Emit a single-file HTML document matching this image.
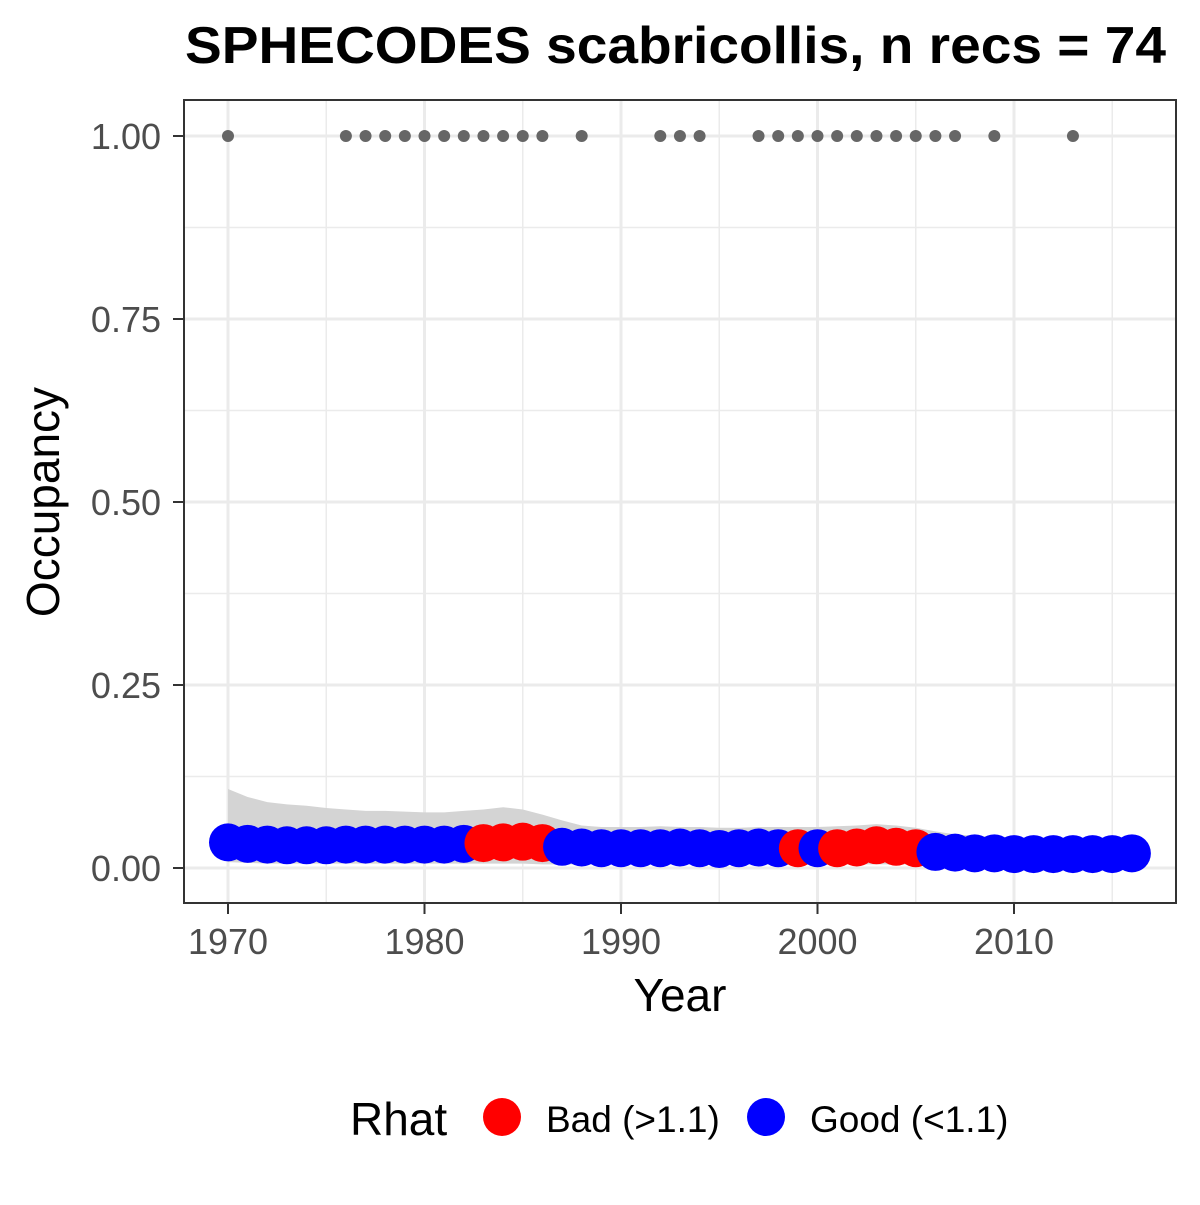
<!DOCTYPE html>
<html><head><meta charset="utf-8"><style>
body{margin:0;background:#fff;}
svg text{font-family:"Liberation Sans",Arial,sans-serif;}
</style></head><body>
<svg id="chart" width="1200" height="1200" xmlns="http://www.w3.org/2000/svg">
<rect width="1200" height="1200" fill="#fff"/>
<text x="185" y="63" font-size="52" font-weight="bold" textLength="981" lengthAdjust="spacingAndGlyphs">SPHECODES scabricollis, n recs = 74</text>
<g id="grid"></g>
<g id="band"></g>
<g id="recs"></g>
<g id="pts"></g>
<rect x="184" y="100" width="992" height="803" fill="none" stroke="#333" stroke-width="2"/>
<g id="axes"></g>
<text x="680" y="1011" text-anchor="middle" font-size="46">Year</text>
<text transform="translate(59,502) rotate(-90)" text-anchor="middle" font-size="46">Occupancy</text>
<g>
<text x="350" y="1135" font-size="46">Rhat</text>
<circle cx="502" cy="1117" r="19" fill="#f00"/>
<text x="546" y="1132" font-size="37">Bad (&gt;1.1)</text>
<circle cx="766" cy="1117" r="19" fill="#00f"/>
<text x="810" y="1132" font-size="37">Good (&lt;1.1)</text>
</g>
</svg>
<script>
const years=[1970,1971,1972,1973,1974,1975,1976,1977,1978,1979,1980,1981,1982,1983,1984,1985,1986,1987,1988,1989,1990,1991,1992,1993,1994,1995,1996,1997,1998,1999,2000,2001,2002,2003,2004,2005,2006,2007,2008,2009,2010,2011,2012,2013,2014,2015,2016];
const occ=[0.035,0.033,0.032,0.031,0.031,0.031,0.032,0.032,0.032,0.032,0.032,0.032,0.033,0.034,0.035,0.036,0.034,0.029,0.028,0.027,0.027,0.027,0.027,0.028,0.027,0.026,0.027,0.028,0.027,0.027,0.027,0.027,0.028,0.031,0.029,0.027,0.022,0.021,0.020,0.020,0.019,0.019,0.019,0.019,0.019,0.019,0.020];
const rhatBad=[0,0,0,0,0,0,0,0,0,0,0,0,0,1,1,1,1,0,0,0,0,0,0,0,0,0,0,0,0,1,0,1,1,1,1,1,0,0,0,0,0,0,0,0,0,0,0];
const upper=[0.108,0.097,0.090,0.087,0.085,0.082,0.080,0.078,0.078,0.077,0.076,0.076,0.078,0.080,0.083,0.080,0.073,0.065,0.058,0.056,0.056,0.056,0.057,0.056,0.056,0.055,0.055,0.056,0.056,0.056,0.056,0.057,0.058,0.060,0.058,0.055,0.050,0.046,0.044,0.043,0.042,0.041,0.040,0.040,0.040,0.040,0.040];
const lower=[0.008,0.007,0.006,0.006,0.006,0.006,0.006,0.006,0.006,0.006,0.006,0.006,0.006,0.006,0.006,0.006,0.005,0.005,0.005,0.005,0.005,0.005,0.005,0.005,0.005,0.005,0.005,0.005,0.005,0.005,0.005,0.005,0.005,0.005,0.005,0.005,0.004,0.004,0.004,0.004,0.003,0.003,0.003,0.003,0.003,0.003,0.003];
const recYears=[1970,1976,1977,1978,1979,1980,1981,1982,1983,1984,1985,1986,1988,1992,1993,1994,1997,1998,1999,2000,2001,2002,2003,2004,2005,2006,2007,2009,2013];
const xTicks=[1970,1980,1990,2000,2010];
const yTicks=[0,0.25,0.5,0.75,1];
const yTickLabels=["0.00","0.25","0.50","0.75","1.00"];

const NS="http://www.w3.org/2000/svg";
const X=v=>228+(v-1970)*(1014-228)/40;
const Y=v=>868-v*732;
function mk(tag,attrs,parent){const e=document.createElementNS(NS,tag);for(const k in attrs)e.setAttribute(k,attrs[k]);document.getElementById(parent).appendChild(e);return e;}

[1975,1985,1995,2005,2015].forEach(v=>{const l=mk('line',{x1:X(v),x2:X(v),y1:100,y2:903,stroke:'#ebebeb','stroke-width':1.5},'grid');

});
[0.125,0.375,0.625,0.875].forEach(v=>{const l=mk('line',{x1:184,x2:1176,y1:Y(v),y2:Y(v),stroke:'#ebebeb','stroke-width':1.5},'grid');

});
xTicks.forEach(v=>{const l=mk('line',{x1:X(v),x2:X(v),y1:100,y2:903,stroke:'#ebebeb','stroke-width':3},'grid');

});
yTicks.forEach(v=>{const l=mk('line',{x1:184,x2:1176,y1:Y(v),y2:Y(v),stroke:'#ebebeb','stroke-width':3},'grid');

});

let d='';years.forEach((y,i)=>{d+=(i?'L':'M')+X(y)+','+Y(upper[i]);});
for(let i=years.length-1;i>=0;i--)d+='L'+X(years[i])+','+Y(lower[i]);
const band=mk('path',{d:d+'Z',fill:'#d4d4d4'},'band');



recYears.forEach(y=>{const c=mk('circle',{cx:X(y),cy:Y(1),r:6,fill:'#666'},'recs');

});

years.forEach((y,i)=>{const c=mk('circle',{cx:X(y),cy:Y(occ[i]),r:19,fill:rhatBad[i]?'#f00':'#00f'},'pts');

});

xTicks.forEach(v=>{mk('line',{x1:X(v),x2:X(v),y1:903,y2:914,stroke:'#333','stroke-width':2},'axes');
const t=mk('text',{x:X(v),y:954,'text-anchor':'middle','font-size':36,fill:'#4d4d4d'},'axes');t.textContent=v;

});
yTicks.forEach((v,i)=>{mk('line',{x1:173,x2:184,y1:Y(v),y2:Y(v),stroke:'#333','stroke-width':2},'axes');
const t=mk('text',{x:161,y:Y(v)+13,'text-anchor':'end','font-size':36,fill:'#4d4d4d'},'axes');t.textContent=yTickLabels[i];

});
</script>
</body></html>
